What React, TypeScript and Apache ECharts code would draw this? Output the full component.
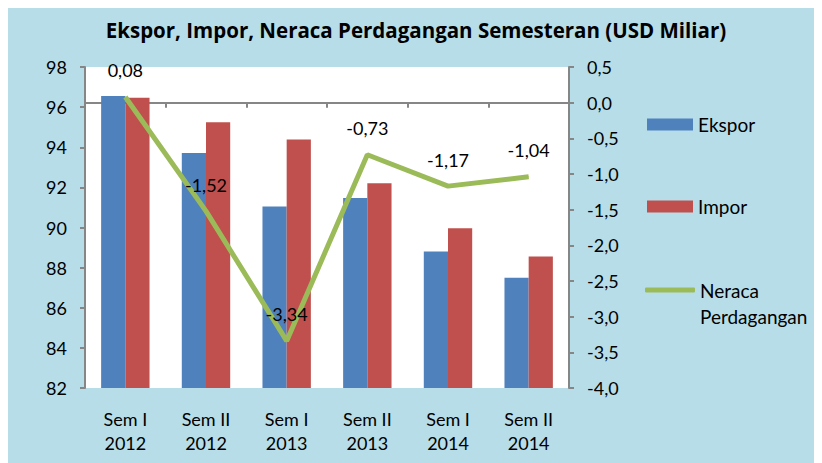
import React, { useEffect, useRef } from "react";
import * as echarts from "echarts";

const categories = ["Sem I\n2012", "Sem II\n2012", "Sem I\n2013", "Sem II\n2013", "Sem I\n2014", "Sem II\n2014"];
const ekspor = [96.55, 93.71, 91.05, 91.47, 88.8, 87.5];
const impor = [96.47, 95.24, 94.39, 92.2, 89.96, 88.56];
const neraca = [0.08, -1.52, -3.34, -0.73, -1.17, -1.04];
const leftTicks = { min: 82, max: 98, interval: 2 };
const rightTicks = { min: -4, max: 0.5, interval: 0.5 };

const FONT = "Lato";
const BLUE = "#4F81BD";
const RED = "#C0504D";
const GREEN = "#9BBB59";
const AXIS = "#868686";

export default function App() {
  const ref = useRef<HTMLDivElement>(null);
  useEffect(() => {
    if (!ref.current) return;
    const chart = echarts.init(ref.current, null, { renderer: "svg" });
    const legendText = { fontFamily: FONT, fontSize: 19, color: "#000" };
    chart.setOption({
      animation: false,
      backgroundColor: "#B7DDE8",
      textStyle: { fontFamily: FONT },
      title: {
        text: "Ekspor, Impor, Neraca Perdagangan Semesteran (USD Miliar)",
        left: 403,
        top: 6,
        textAlign: "center",
        textStyle: { fontFamily: "Open Sans", fontWeight: "bold", fontSize: 20.5, color: "#000" },
      },
      grid: {
        left: 77,
        top: 59,
        right: 253,
        bottom: 75,
        show: true,
        backgroundColor: "#FFFFFF",
        borderWidth: 0,
      },
      legend: [
        {
          data: ["Ekspor"],
          orient: "vertical",
          left: 634,
          top: 102,
          icon: "rect",
          itemWidth: 46,
          itemHeight: 12,
          textStyle: legendText,
        },
        {
          data: ["Impor"],
          orient: "vertical",
          left: 634,
          top: 184,
          icon: "rect",
          itemWidth: 46,
          itemHeight: 12,
          textStyle: legendText,
        },
        {
          data: ["Neraca Perdagangan"],
          orient: "vertical",
          left: 632,
          top: 238,
          icon: "roundRect",
          itemWidth: 50,
          itemHeight: 5,
          formatter: () => "\u00A0\nNeraca\nPerdagangan",
          textStyle: { ...legendText, lineHeight: 26 },
        },
      ],
      xAxis: {
        type: "category",
        data: categories,
        boundaryGap: true,
        axisLine: { lineStyle: { color: AXIS, width: 2 } },
        axisTick: { show: true, length: 5, lineStyle: { color: AXIS, width: 2 } },
        axisLabel: { color: "#000", fontSize: 18, lineHeight: 24, margin: 19, fontFamily: FONT },
      },
      yAxis: [
        {
          type: "value",
          min: leftTicks.min,
          max: leftTicks.max,
          interval: leftTicks.interval,
          axisLine: { show: true, lineStyle: { color: AXIS, width: 2 } },
          axisTick: { show: true, length: 5, lineStyle: { color: AXIS, width: 2 } },
          splitLine: { show: false },
          axisLabel: { color: "#000", fontSize: 18, margin: 18, fontFamily: FONT },
        },
        {
          type: "value",
          min: rightTicks.min,
          max: rightTicks.max,
          interval: rightTicks.interval,
          position: "right",
          axisLine: { show: true, lineStyle: { color: AXIS, width: 2 } },
          axisTick: { show: true, length: 5, lineStyle: { color: AXIS, width: 2 } },
          splitLine: { show: false },
          axisLabel: {
            color: "#000",
            fontSize: 18,
            margin: 18,
            fontFamily: FONT,
            formatter: (v: number) => v.toFixed(1).replace(".", ","),
          },
        },
      ],
      series: [
        {
          name: "Ekspor",
          type: "bar",
          data: ekspor,
          yAxisIndex: 0,
          barGap: "0%",
          barCategoryGap: "40%",
          itemStyle: { color: BLUE },
        },
        {
          name: "Impor",
          type: "bar",
          data: impor,
          yAxisIndex: 0,
          barGap: "0%",
          barCategoryGap: "40%",
          itemStyle: { color: RED },
        },
        {
          name: "Neraca Perdagangan",
          type: "line",
          data: neraca,
          yAxisIndex: 1,
          symbol: "circle",
          symbolSize: 1,
          showSymbol: true,
          itemStyle: { color: GREEN },
          lineStyle: { color: GREEN, width: 5 },
          label: {
            show: true,
            position: "top",
            distance: 17,
            color: "#000",
            fontSize: 18,
            fontFamily: FONT,
            formatter: (p: any) => p.value.toFixed(2).replace(".", ","),
          },
          z: 5,
        },
      ],
    });
    return () => chart.dispose();
  }, []);
  return <div ref={ref} style={{ width: 814, height: 455 }} />;
}
